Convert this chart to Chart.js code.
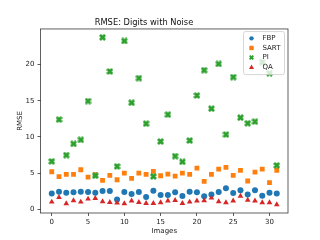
<!DOCTYPE html>
<html>
<head>
<meta charset="utf-8">
<script src="https://cdn.jsdelivr.net/npm/chart.js@4/dist/chart.umd.min.js"></script>
<style>
  html, body { margin: 0; padding: 0; background: #fff; }
  #wrap { width: 320px; height: 240px; }
</style>
</head>
<body>
<div id="wrap"><canvas id="myChart" width="320" height="240"></canvas></div>
<script>
// data
const images = Array.from({ length: 32 }, (_, i) => i);
const fbp = [2.16, 2.43, 2.29, 2.34, 2.43, 2.39, 2.29, 2.52, 2.52, 1.33, 2.39, 2.11, 2.39, 1.70, 2.57, 1.97,
             1.97, 2.34, 1.83, 2.43, 2.34, 1.79, 2.02, 2.39, 2.89, 2.25, 2.61, 2.02, 2.61, 1.88, 2.29, 2.16];
const sart = [5.18, 4.50, 4.82, 4.82, 5.46, 4.45, 4.77, 3.99, 4.68, 4.08, 5.00, 4.27, 5.00, 4.82, 5.23, 4.63,
              4.86, 4.59, 5.00, 4.82, 5.69, 3.85, 4.82, 5.55, 5.78, 4.68, 5.37, 3.90, 5.14, 5.55, 3.67, 5.37];
const pi = [6.61, 12.39, 7.48, 9.04, 9.59, 14.95, 4.63, 23.76, 19.04, 5.92, 23.26, 14.72, 18.12, 11.83, 4.54, 9.36,
            13.07, 7.34, 6.56, 9.50, 15.73, 19.22, 13.90, 20.09, 10.32, 18.26, 12.66, 11.88, 12.11, 20.32, 18.81, 6.06];
const qa = [1.01, 1.65, 0.78, 1.19, 1.01, 1.42, 1.51, 1.06, 0.96, 0.87, 0.78, 1.15, 0.96, 0.83, 0.83, 0.92,
            1.15, 1.24, 0.83, 1.01, 1.15, 1.19, 1.56, 1.06, 0.92, 1.15, 1.83, 1.28, 1.15, 0.92, 0.92, 0.64];
const xTicks = [0, 5, 10, 15, 20, 25, 30];
const yTicks = [0, 5, 10, 15, 20];

const FONT = 'DejaVu Sans';

// filled "X" marker like matplotlib's 'X'
function makeX(color, size, arm) {
    const c = document.createElement('canvas');
    c.width = size; c.height = size;
    const g = c.getContext('2d');
    const s = size, t = s * arm;
    g.fillStyle = color;
    g.beginPath();
    g.moveTo(t, 0); g.lineTo(s / 2, s / 2 - t); g.lineTo(s - t, 0); g.lineTo(s, t);
    g.lineTo(s / 2 + t, s / 2); g.lineTo(s, s - t); g.lineTo(s - t, s); g.lineTo(s / 2, s / 2 + t);
    g.lineTo(t, s); g.lineTo(0, s - t); g.lineTo(s / 2 - t, s / 2); g.lineTo(0, t);
    g.closePath();
    g.fill();
    return c;
}
const xMark = makeX('#2ca02c', 7, 0.27);
const xMarkSmall = makeX('#2ca02c', 5, 0.27);

const pts = (arr) => arr.map((v, i) => ({ x: images[i], y: v }));

// box around the plot area
const frame = {
    id: 'frame',
    afterDatasetsDraw(chart) {
        const { ctx, chartArea: a } = chart;
        ctx.save();
        ctx.strokeStyle = '#3a3a3a';
        ctx.lineWidth = 0.8;
        ctx.strokeRect(a.left, a.top, a.right - a.left, a.bottom - a.top);
        ctx.restore();
    }
};

// legend in the upper right corner, matplotlib style
const cornerLegend = {
    id: 'cornerLegend',
    afterDraw(chart) {
        const { ctx, chartArea: a } = chart;
        const w = 41, h = 43;
        const x0 = a.right - w - 3.5, y0 = a.top + 2.6;
        ctx.save();
        ctx.fillStyle = 'rgba(255,255,255,0.8)';
        ctx.strokeStyle = '#cccccc';
        ctx.lineWidth = 0.8;
        ctx.beginPath();
        ctx.roundRect(x0, y0, w, h, 2);
        ctx.fill();
        ctx.stroke();
        ctx.font = '7px "' + FONT + '"';
        ctx.textBaseline = 'middle';
        chart.data.datasets.forEach((ds, i) => {
            const cy = y0 + 6.8 + i * 9.6;
            const cx = x0 + 8;
            ctx.fillStyle = ds.backgroundColor;
            if (ds.pointStyle === 'circle') {
                ctx.beginPath(); ctx.arc(cx, cy, 2.2, 0, Math.PI * 2); ctx.fill();
            } else if (ds.pointStyle === 'rect') {
                ctx.fillRect(cx - 2.2, cy - 2.2, 4.4, 4.4);
            } else if (ds.pointStyle === 'triangle') {
                ctx.beginPath(); ctx.moveTo(cx, cy - 2.6); ctx.lineTo(cx + 2.5, cy + 1.9); ctx.lineTo(cx - 2.5, cy + 1.9);
                ctx.closePath(); ctx.fill();
            } else {
                ctx.drawImage(xMarkSmall, cx - 2.5, cy - 2.5);
            }
            ctx.fillStyle = '#222';
            ctx.fillText(ds.label, x0 + 19, cy);
        });
        ctx.restore();
    }
};

new Chart(document.getElementById('myChart'), {
    type: 'scatter',
    data: {
        datasets: [
            { label: 'FBP', data: pts(fbp), pointStyle: 'circle', backgroundColor: '#1f77b4', borderColor: '#1f77b4', pointRadius: 3, borderWidth: 0, order: 4 },
            { label: 'SART', data: pts(sart), pointStyle: 'rect', backgroundColor: '#ff7f0e', borderColor: '#ff7f0e', pointRadius: 3.4, borderWidth: 0, order: 3 },
            { label: 'PI', data: pts(pi), pointStyle: xMark, backgroundColor: '#2ca02c', borderColor: '#2ca02c', pointRadius: 3.5, borderWidth: 0, order: 2 },
            { label: 'QA', data: pts(qa), pointStyle: 'triangle', backgroundColor: '#d62728', borderColor: '#d62728', pointRadius: 3.3, borderWidth: 0, order: 1 }
        ]
    },
    options: {
        responsive: false,
        animation: false,
        layout: { padding: { left: 0, right: 32, top: 0, bottom: 0 } },
        plugins: {
            legend: { display: false },
            tooltip: { enabled: false },
            title: {
                display: true,
                text: 'RMSE: Digits with Noise',
                color: '#111',
                font: { family: FONT, size: 8.3, weight: 'normal' },
                padding: { top: 18, bottom: 1 }
            }
        },
        scales: {
            x: {
                type: 'linear',
                min: -1.55,
                max: 32.55,
                afterBuildTicks: (s) => { s.ticks = xTicks.map(v => ({ value: v })); },
                afterFit: (s) => { s.height = 27; },
                grid: { display: true, drawOnChartArea: false, drawTicks: true, tickLength: 3, color: '#333', lineWidth: 0.8 },
                border: { display: false },
                ticks: { color: '#222', font: { family: FONT, size: 7 }, padding: 2, maxRotation: 0 },
                title: { display: true, text: 'Images', color: '#222', font: { family: FONT, size: 7 }, padding: { top: 0, bottom: 5 } }
            },
            y: {
                type: 'linear',
                min: -0.52,
                max: 24.92,
                afterBuildTicks: (s) => { s.ticks = yTicks.map(v => ({ value: v })); },
                afterFit: (s) => { s.width = 40.5; },
                grid: { display: true, drawOnChartArea: false, drawTicks: true, tickLength: 3, color: '#333', lineWidth: 0.8 },
                border: { display: false },
                ticks: { color: '#222', font: { family: FONT, size: 7 }, padding: 3 },
                title: { display: true, text: 'RMSE', color: '#222', font: { family: FONT, size: 7 }, padding: { top: 15.5, bottom: 0 } }
            }
        }
    },
    plugins: [frame, cornerLegend]
});
</script>
</body>
</html>
